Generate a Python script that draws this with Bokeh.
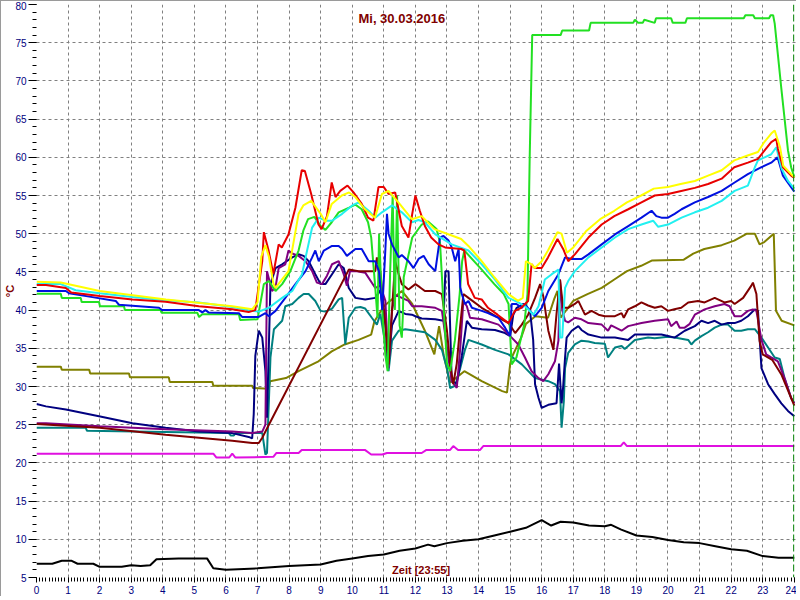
from bokeh.plotting import figure
from bokeh.models import FixedTicker, Label, Span, Range1d
from bokeh.embed import file_html
from bokeh.resources import INLINE

# ---------------- data ----------------
hour_ticks = list(range(0, 25))
temp_ticks = list(range(5, 81, 5))
title_text = "Mi, 30.03.2016"
time_text = "Zeit [23:55]"
unit_text = "°C"
now_hour = 23.98

black_h = [0, 0.5, 0.8, 1.1, 1.3, 1.8, 2.0, 2.7, 3.0, 3.3, 3.6, 3.8, 4.5, 5.0, 5.4, 5.6, 6.0, 7.0, 8.0, 8.5, 9.0, 9.5, 10.0, 10.5, 11.0, 11.5, 12.0, 12.4, 12.6, 13.0, 13.5, 14.0, 14.5, 15.0, 15.5, 16.0, 16.3, 16.6, 17.0, 17.5, 18.0, 18.2, 18.5, 19.0, 19.5, 20.0, 20.5, 21.0, 21.5, 22.0, 22.5, 23.0, 23.5, 24.0]
black_v = [6.8, 6.8, 7.2, 7.2, 6.8, 6.8, 6.4, 6.4, 6.6, 6.5, 6.6, 7.4, 7.5, 7.5, 7.5, 6.2, 6.0, 6.2, 6.5, 6.6, 6.7, 7.2, 7.5, 7.8, 8.0, 8.5, 8.8, 9.3, 9.1, 9.5, 9.8, 10.0, 10.5, 11.0, 11.5, 12.5, 11.8, 12.3, 12.2, 11.8, 11.7, 11.9, 11.3, 10.5, 10.3, 9.9, 9.6, 9.5, 9.1, 8.7, 8.5, 7.8, 7.6, 7.6]

magenta_h = [0, 5.6, 5.7, 6.1, 6.2, 6.3, 7.5, 7.6, 8.3, 8.4, 10.4, 10.6, 10.95, 11.1, 12.2, 12.35, 13.1, 13.2, 13.35, 14.05, 14.15, 18.5, 18.6, 18.7, 24]
magenta_v = [21.2, 21.2, 20.7, 20.7, 21.2, 20.7, 20.8, 21.3, 21.3, 21.7, 21.7, 21.1, 21.1, 21.3, 21.3, 21.7, 21.7, 22.2, 21.7, 21.7, 22.2, 22.2, 22.7, 22.2, 22.2]

olive_h = [0, 0.77, 0.8, 1.67, 1.7, 2.93, 2.96, 4.19, 4.22, 5.57, 5.6, 6.83, 6.86, 7.35, 7.4, 7.9, 8.3, 8.93, 9.35, 9.76, 10.2, 10.6, 10.7, 11.0, 11.57, 11.9, 12.3, 12.6, 12.75, 12.9, 13.1, 13.55, 14.1, 14.75, 14.9, 15.0, 15.05, 15.35, 15.5, 15.8, 16.2, 16.4, 16.5, 16.6, 17.0, 17.45, 17.9, 18.3, 18.7, 19.15, 19.5, 20.5, 20.8, 21.15, 21.7, 22.1, 22.5, 22.75, 22.9, 23.05, 23.35, 23.42, 23.6, 24.0]
olive_v = [32.6, 32.6, 32.2, 32.2, 31.7, 31.7, 31.2, 31.2, 30.6, 30.6, 30.1, 30.1, 29.8, 29.7, 30.7, 31.1, 32.0, 33.3, 34.6, 35.5, 36.1, 36.8, 38.5, 40.5, 42.5, 40.8, 37.3, 34.2, 37.9, 34.0, 30.5, 32.0, 30.7, 29.4, 29.2, 32.9, 33.8, 36.4, 38.2, 39.2, 39.0, 41.5, 42.5, 39.0, 41.2, 42.1, 42.9, 44.0, 45.1, 45.8, 46.5, 46.6, 47.4, 48.0, 48.5, 49.1, 50.0, 50.0, 48.6, 48.9, 50.0, 39.9, 38.6, 38.0]

green_h = [0, 0.77, 0.8, 1.4, 1.43, 1.98, 2.01, 2.77, 2.8, 3.93, 3.96, 5.09, 5.15, 5.25, 6.41, 6.45, 7.0, 7.2, 7.36, 7.57, 7.78, 8.04, 8.3, 8.45, 8.6, 8.8, 9.0, 9.15, 9.35, 9.57, 9.9, 10.1, 10.3, 10.5, 10.6, 10.72, 10.8, 10.85, 10.95, 11.05, 11.12, 11.2, 11.28, 11.35, 11.42, 11.5, 11.57, 11.6, 11.63, 11.9, 12.2, 12.4, 12.67, 12.78, 12.9, 13.0, 13.1, 13.25, 13.4, 13.48, 13.55, 14.1, 14.5, 14.8, 14.95, 15.05, 15.2, 15.35, 15.45, 15.55, 15.62, 15.7, 16.6, 16.65, 17.5, 17.55, 18.9, 18.95, 19.05, 19.2, 19.25, 19.58, 19.62, 20.1, 20.15, 20.55, 20.6, 22.4, 22.45, 22.7, 22.75, 23.2, 23.25, 23.33, 23.38, 23.59, 23.8, 23.9, 24.0]
green_v = [42.15, 42.15, 41.6, 41.6, 41.06, 41.06, 40.5, 40.5, 40.0, 40.0, 39.66, 39.66, 39.1, 39.45, 39.45, 38.7, 38.8, 43.4, 43.8, 42.5, 43.4, 45.1, 47.8, 50.4, 51.9, 52.2, 51.0, 50.5, 51.5, 52.8, 53.4, 53.8, 53.2, 51.5, 49.5, 43.4, 39.0, 50.0, 40.0, 34.0, 32.0, 45.0, 55.0, 40.0, 55.0, 38.0, 36.4, 39.0, 44.3, 49.5, 51.2, 51.6, 50.6, 48.8, 40.0, 33.0, 32.0, 36.0, 42.0, 46.4, 47.8, 45.3, 43.4, 42.1, 40.8, 32.9, 33.8, 36.4, 38.2, 42.1, 60.0, 76.0, 76.0, 76.6, 76.6, 77.6, 77.6, 78.0, 77.6, 77.6, 78.0, 77.6, 78.2, 78.2, 77.6, 77.6, 78.2, 78.2, 78.6, 78.6, 78.2, 78.2, 78.6, 78.6, 77.5, 69.0, 60.9, 58.7, 57.4]

yellow_h = [0, 0.77, 2.0, 4.1, 6.2, 6.83, 7.0, 7.12, 7.25, 7.36, 7.5, 7.57, 7.98, 8.3, 8.45, 8.7, 9.0, 9.15, 9.35, 9.67, 9.9, 10.1, 10.4, 10.72, 10.94, 11.15, 11.5, 11.89, 12.2, 12.6, 13.0, 13.45, 13.68, 14.1, 14.5, 14.95, 15.25, 15.4, 15.5, 15.68, 15.78, 16.0, 16.2, 16.5, 16.63, 16.8, 17.0, 17.42, 17.85, 18.3, 18.7, 19.15, 19.55, 20.0, 20.4, 20.85, 21.27, 21.7, 22.1, 22.5, 22.85, 23.05, 23.27, 23.38, 23.55, 23.65, 23.9, 24.0]
yellow_v = [43.7, 43.6, 42.5, 41.4, 40.5, 40.1, 41.0, 47.0, 48.5, 47.0, 43.5, 42.9, 45.1, 52.6, 53.7, 54.3, 52.6, 51.5, 53.9, 55.0, 55.4, 54.8, 53.2, 52.1, 55.2, 55.6, 53.9, 51.9, 52.3, 50.6, 50.0, 49.3, 48.4, 46.4, 44.3, 42.1, 41.2, 41.6, 46.4, 46.0, 45.5, 46.4, 47.8, 50.2, 50.0, 47.5, 48.2, 50.4, 51.9, 53.0, 54.1, 55.0, 55.9, 56.1, 56.5, 56.9, 57.6, 58.3, 59.6, 60.2, 60.7, 62.0, 63.1, 63.5, 61.3, 58.9, 57.8, 57.4]

red_h = [0, 0.3, 0.93, 1.1, 2.0, 3.04, 4.09, 5.14, 6.2, 6.72, 6.93, 7.15, 7.2, 7.35, 7.5, 7.67, 7.77, 7.98, 8.2, 8.4, 8.5, 8.7, 8.93, 9.03, 9.2, 9.35, 9.47, 9.62, 9.85, 10.04, 10.3, 10.5, 10.67, 10.83, 11.0, 11.15, 11.36, 11.57, 11.78, 11.9, 12.0, 12.14, 12.3, 12.5, 12.73, 12.94, 13.45, 13.55, 13.67, 13.88, 14.1, 14.3, 14.6, 14.95, 15.15, 15.35, 15.57, 15.68, 15.78, 16.0, 16.2, 16.5, 16.68, 16.84, 17.05, 17.48, 17.9, 18.3, 18.74, 19.16, 19.58, 20.0, 20.42, 20.85, 21.27, 21.7, 22.1, 22.53, 22.85, 23.06, 23.27, 23.43, 23.48, 23.64, 23.9, 24.0]
red_v = [43.3, 43.3, 42.9, 42.3, 41.85, 41.4, 41.1, 40.5, 40.1, 39.75, 40.0, 46.4, 50.2, 47.8, 44.7, 48.6, 48.2, 49.9, 53.4, 58.3, 58.2, 55.2, 51.2, 50.6, 52.3, 56.7, 54.8, 55.6, 56.3, 55.4, 53.9, 52.1, 51.7, 56.1, 56.1, 55.2, 55.4, 51.0, 49.5, 52.6, 55.0, 53.0, 51.0, 49.5, 48.6, 48.2, 48.0, 47.8, 43.4, 41.6, 41.4, 40.3, 39.4, 38.3, 39.9, 40.3, 41.2, 46.0, 45.5, 45.5, 46.9, 49.3, 48.0, 46.4, 47.3, 49.5, 51.2, 52.3, 53.2, 54.1, 55.0, 55.2, 55.6, 56.0, 56.5, 57.2, 58.7, 59.3, 59.8, 60.9, 62.0, 62.4, 61.1, 58.7, 57.6, 57.3]

cyan_h = [0, 0.77, 1.24, 2.0, 3.04, 4.09, 5.14, 6.2, 6.83, 7.04, 7.36, 7.78, 8.1, 8.41, 8.57, 8.73, 8.94, 9.15, 9.36, 9.68, 10.0, 10.2, 10.52, 10.73, 10.94, 11.26, 11.57, 11.89, 12.1, 12.3, 12.63, 13.15, 13.68, 14.1, 14.52, 14.95, 15.26, 15.47, 15.74, 15.9, 16.1, 16.32, 16.53, 16.58, 16.65, 16.74, 16.84, 17.05, 17.48, 17.9, 18.32, 18.74, 19.16, 19.53, 19.69, 20.0, 20.43, 20.85, 21.27, 21.7, 22.11, 22.53, 22.75, 22.85, 23.06, 23.27, 23.43, 23.6, 23.8, 24.0]
cyan_v = [43.4, 43.4, 42.6, 42.2, 41.7, 41.3, 41.0, 40.4, 39.9, 39.8, 40.3, 41.6, 42.5, 44.7, 47.8, 50.8, 52.1, 51.7, 51.7, 52.6, 53.7, 54.1, 53.0, 52.1, 52.8, 53.7, 52.8, 51.5, 51.8, 51.5, 49.9, 48.6, 47.8, 46.0, 44.0, 41.6, 41.0, 40.5, 39.4, 40.5, 44.0, 44.7, 45.3, 36.4, 36.4, 42.9, 43.8, 45.1, 46.9, 48.2, 49.5, 50.6, 51.2, 51.7, 50.9, 51.2, 52.1, 52.8, 53.4, 54.3, 55.6, 56.3, 58.7, 59.6, 60.0, 60.4, 61.3, 58.5, 56.9, 55.9]

blue_h = [0, 0.93, 1.03, 1.77, 2.51, 2.61, 3.88, 3.98, 5.14, 5.25, 5.35, 5.45, 6.41, 6.51, 7.04, 7.25, 7.36, 7.57, 7.88, 8.2, 8.52, 8.73, 8.83, 8.94, 9.1, 9.36, 9.57, 9.68, 9.83, 10.1, 10.3, 10.52, 10.73, 10.85, 10.95, 11.05, 11.1, 11.15, 11.26, 11.47, 11.57, 11.78, 11.94, 12.1, 12.26, 12.42, 12.63, 12.78, 12.89, 13.05, 13.15, 13.26, 13.37, 13.42, 13.47, 13.57, 13.68, 13.79, 14.1, 14.3, 14.63, 14.84, 15.0, 15.05, 15.2, 15.37, 15.47, 15.63, 15.79, 16.0, 16.21, 16.53, 16.74, 16.95, 17.27, 17.48, 17.9, 18.32, 18.74, 19.16, 19.48, 19.63, 19.79, 20.0, 20.21, 20.43, 20.85, 21.27, 21.7, 22.11, 22.53, 22.96, 23.27, 23.47, 23.64, 24.0]
blue_v = [42.5, 42.5, 42.2, 41.7, 41.2, 40.7, 40.3, 40.0, 40.0, 39.7, 40.0, 39.7, 39.6, 39.1, 39.1, 39.6, 39.2, 39.9, 41.6, 43.4, 45.1, 46.9, 47.8, 46.4, 47.8, 48.4, 48.4, 48.0, 47.1, 48.0, 48.0, 46.4, 46.4, 45.0, 40.0, 48.0, 52.6, 50.0, 48.6, 46.9, 47.2, 46.4, 45.5, 46.7, 47.1, 46.0, 45.1, 49.5, 49.7, 49.1, 48.2, 46.4, 48.0, 43.0, 42.1, 40.8, 41.2, 40.3, 39.9, 39.6, 39.0, 37.7, 36.6, 40.8, 40.8, 40.3, 40.8, 39.9, 39.2, 40.3, 42.5, 44.7, 46.9, 46.7, 46.7, 47.3, 48.6, 49.9, 51.0, 52.1, 53.0, 52.3, 52.1, 52.1, 52.6, 53.2, 54.1, 54.8, 55.6, 56.7, 57.8, 58.7, 59.3, 60.0, 57.6, 55.5]

purple_h = [0, 0.3, 2.0, 4.09, 6.2, 6.83, 7.15, 7.25, 7.3, 7.46, 7.57, 7.67, 7.88, 7.98, 8.1, 8.3, 8.52, 8.73, 8.88, 9.04, 9.2, 9.36, 9.57, 9.73, 9.83, 9.93, 10.1, 10.41, 10.73, 10.89, 11.05, 11.15, 11.26, 11.36, 11.57, 11.78, 11.9, 12.2, 12.63, 12.84, 13.0, 13.15, 13.31, 13.42, 13.52, 13.63, 13.73, 14.1, 14.63, 14.84, 15.05, 15.26, 15.47, 15.68, 15.9, 16.05, 16.21, 16.42, 16.53, 16.58, 16.65, 16.74, 16.84, 17.05, 17.26, 17.48, 17.9, 18.1, 18.2, 18.53, 18.74, 19.16, 19.58, 20.0, 20.1, 20.27, 20.37, 20.53, 20.69, 20.85, 21.16, 21.48, 21.79, 21.95, 22.11, 22.32, 22.53, 22.69, 22.8, 22.96, 23.11, 23.27, 23.48, 23.7, 23.9, 24.0]
purple_v = [25.2, 25.2, 24.8, 24.4, 24.1, 23.9, 24.1, 25.0, 45.1, 42.5, 43.0, 45.5, 46.0, 47.8, 47.4, 47.1, 46.4, 45.1, 43.6, 43.4, 44.5, 46.0, 46.4, 44.7, 43.2, 45.1, 45.1, 44.9, 42.9, 43.2, 41.2, 32.4, 40.0, 42.0, 41.6, 41.2, 40.5, 40.5, 40.3, 39.9, 35.1, 30.7, 29.8, 35.0, 41.2, 40.5, 39.0, 38.8, 38.1, 37.3, 36.4, 35.5, 33.8, 32.0, 31.1, 30.7, 31.6, 33.3, 36.0, 44.0, 40.0, 38.6, 38.4, 39.0, 38.8, 38.3, 38.1, 37.3, 38.0, 37.3, 37.9, 38.3, 38.6, 38.8, 37.9, 38.5, 37.7, 37.7, 38.2, 39.4, 40.1, 40.5, 40.8, 40.5, 39.2, 39.2, 39.9, 40.1, 39.9, 36.1, 34.2, 33.8, 33.3, 31.0, 28.5, 27.8]

maroon_h = [0, 2.0, 4.09, 6.2, 6.83, 7.04, 7.15, 7.36, 9.89, 10.2, 10.73, 10.78, 10.89, 11.05, 11.15, 11.26, 11.36, 11.47, 11.57, 11.78, 12.0, 12.14, 12.3, 12.63, 12.84, 13.0, 13.1, 13.2, 13.31, 13.42, 13.52, 13.68, 14.1, 14.3, 14.63, 14.95, 15.16, 15.37, 15.57, 15.79, 15.95, 16.05, 16.21, 16.37, 16.47, 16.58, 16.68, 16.84, 17.05, 17.16, 17.37, 17.58, 17.8, 18.0, 18.32, 18.53, 18.6, 18.74, 18.95, 19.16, 19.37, 19.58, 19.79, 20.0, 20.2, 20.42, 20.64, 20.95, 21.16, 21.48, 21.79, 22.0, 22.11, 22.38, 22.64, 22.69, 22.8, 22.9, 23.0, 23.3, 23.6, 24.0]
maroon_v = [25.1, 24.6, 23.7, 22.9, 22.6, 22.6, 23.3, 25.0, 45.3, 45.1, 45.1, 46.9, 45.0, 38.1, 32.9, 40.0, 46.4, 44.7, 43.4, 42.7, 43.4, 43.0, 42.5, 42.5, 42.1, 37.3, 32.9, 30.3, 33.0, 38.0, 42.1, 41.6, 40.3, 39.8, 39.0, 38.3, 37.0, 38.1, 39.4, 41.6, 43.4, 41.8, 37.3, 34.8, 39.5, 44.0, 40.3, 40.3, 40.8, 41.2, 39.4, 39.9, 39.4, 39.2, 39.2, 39.6, 39.0, 40.1, 40.5, 41.0, 40.6, 40.3, 40.5, 39.9, 40.1, 40.3, 41.0, 41.2, 41.0, 41.6, 41.0, 41.2, 40.8, 41.6, 43.2, 43.6, 42.1, 36.0, 34.2, 33.5, 31.5, 27.5]

teal_h = [0, 1.56, 1.6, 6.09, 6.15, 6.25, 6.3, 7.15, 7.25, 7.3, 7.41, 7.52, 7.78, 7.88, 8.1, 8.3, 8.46, 8.62, 8.83, 9.0, 9.15, 9.36, 9.57, 9.68, 9.78, 9.89, 10.1, 10.26, 10.41, 10.62, 10.78, 10.89, 11.05, 11.15, 11.26, 11.47, 11.68, 12.0, 12.3, 12.63, 12.84, 13.0, 13.1, 13.26, 13.42, 13.57, 13.68, 14.1, 14.52, 14.95, 15.37, 15.79, 16.21, 16.42, 16.58, 16.63, 16.7, 16.74, 16.84, 17.05, 17.26, 17.48, 17.68, 18.0, 18.1, 18.32, 18.53, 18.63, 18.74, 18.95, 19.37, 19.58, 19.79, 20.0, 20.21, 20.64, 20.74, 20.85, 21.06, 21.27, 21.48, 21.7, 21.9, 22.11, 22.32, 22.53, 22.75, 22.96, 23.17, 23.38, 23.54, 23.69, 23.9, 24.0]
teal_v = [24.6, 24.6, 24.2, 23.9, 23.6, 23.6, 23.9, 23.9, 21.1, 21.3, 33.8, 37.5, 38.6, 40.5, 40.8, 41.6, 42.1, 42.1, 41.2, 39.9, 39.8, 40.2, 41.4, 41.6, 35.5, 39.0, 40.3, 40.4, 40.2, 39.0, 38.1, 39.5, 35.5, 32.0, 36.0, 37.3, 37.5, 37.3, 37.1, 36.1, 34.8, 32.4, 29.8, 30.1, 32.4, 34.8, 36.1, 35.5, 34.8, 34.2, 32.9, 31.1, 30.7, 30.3, 29.4, 24.6, 28.0, 32.4, 34.4, 35.5, 36.0, 35.9, 35.7, 35.6, 33.8, 35.1, 35.3, 34.9, 35.3, 36.1, 36.4, 36.3, 36.4, 36.5, 36.4, 36.1, 35.5, 36.0, 36.6, 37.1, 37.7, 38.1, 38.1, 37.3, 37.3, 37.5, 37.5, 36.4, 35.1, 33.8, 33.6, 31.1, 28.5, 27.8]

navy_h = [0, 0.3, 0.93, 1.98, 3.04, 4.09, 5.14, 6.2, 6.72, 6.83, 6.88, 6.93, 7.04, 7.15, 7.25, 7.3, 7.41, 7.57, 7.78, 8.1, 8.3, 8.46, 8.62, 8.83, 9.0, 9.15, 9.36, 9.57, 9.73, 9.89, 10.1, 10.41, 10.73, 10.89, 11.05, 11.15, 11.26, 11.47, 11.68, 11.89, 12.0, 12.2, 12.63, 12.89, 12.95, 13.05, 13.15, 13.31, 13.47, 13.63, 13.79, 14.1, 14.52, 14.84, 15.0, 15.1, 15.21, 15.42, 15.63, 15.73, 15.79, 15.9, 16.0, 16.21, 16.47, 16.55, 16.63, 16.68, 16.74, 16.79, 16.95, 17.16, 17.26, 17.48, 17.9, 18.32, 18.74, 18.95, 19.37, 19.79, 20.0, 20.21, 20.53, 20.85, 21.06, 21.27, 21.48, 21.7, 21.9, 22.11, 22.32, 22.53, 22.75, 22.85, 22.96, 23.17, 23.38, 23.59, 23.8, 24.0]
navy_v = [27.7, 27.4, 27.0, 26.1, 25.2, 24.6, 24.1, 23.9, 23.4, 23.2, 26.4, 34.0, 37.3, 36.4, 32.0, 25.9, 43.4, 45.5, 46.0, 46.9, 47.3, 47.1, 46.4, 44.7, 43.4, 43.4, 44.7, 46.0, 45.5, 42.9, 41.6, 41.4, 41.6, 42.6, 38.0, 33.3, 38.0, 39.9, 39.5, 39.4, 39.2, 38.9, 38.8, 38.6, 45.1, 45.1, 30.7, 30.4, 34.0, 38.6, 37.7, 37.5, 37.4, 37.0, 36.6, 39.4, 40.3, 40.8, 39.9, 36.1, 30.3, 28.5, 27.2, 27.6, 27.8, 33.0, 27.8, 30.0, 33.8, 36.4, 37.3, 37.9, 37.4, 36.8, 36.4, 36.4, 36.1, 36.8, 36.8, 36.8, 36.6, 36.4, 37.3, 37.9, 38.6, 38.3, 38.6, 38.1, 38.3, 38.3, 38.6, 39.2, 40.1, 39.9, 32.4, 30.3, 29.0, 27.8, 26.8, 26.1]

series = [
    (magenta_h, magenta_v, "#E010E0"),
    (black_h, black_v, "#000000"),
    (olive_h, olive_v, "#808000"),
    (teal_h, teal_v, "#008080"),
    (navy_h, navy_v, "#000080"),
    (purple_h, purple_v, "#800080"),
    (maroon_h, maroon_v, "#800000"),
    (green_h, green_v, "#22E022"),
    (blue_h, blue_v, "#0010E0"),
    (cyan_h, cyan_v, "#22F0F0"),
    (red_h, red_v, "#E80000"),
    (yellow_h, yellow_v, "#FFFF00"),
]

# ---------------- figure ----------------
p = figure(width=796, height=596, output_backend="svg", toolbar_location=None,
           x_range=Range1d(0, 24.07), y_range=Range1d(5, 80),
           min_border_left=33, min_border_right=1, min_border_top=3, min_border_bottom=20)
p.background_fill_color = "white"
p.border_fill_color = "white"
p.outline_line_color = None
p.styles = {"border-left": "1px solid #9a9a9a", "border-top": "1px solid #9a9a9a"}

font = "Liberation Sans"
for ax in (p.xaxis[0], p.yaxis[0]):
    ax.axis_line_color = None
    ax.major_tick_in = 0
    ax.minor_tick_in = 0
    ax.major_tick_line_color = "black"
    ax.minor_tick_line_color = "black"
    ax.major_label_text_color = "#000080"
    ax.major_label_text_font = font
    ax.major_label_text_font_size = "10px"

p.xaxis.ticker = FixedTicker(ticks=hour_ticks, minor_ticks=[i / 10 for i in range(0, 241)])
p.xaxis.major_tick_out = 5
p.xaxis.minor_tick_out = 4
p.xaxis.major_label_standoff = 3
p.yaxis.ticker = FixedTicker(ticks=temp_ticks, minor_ticks=list(range(5, 81)))
p.yaxis.major_tick_out = 8
p.yaxis.minor_tick_out = 4
p.yaxis.major_label_standoff = 2
p.yaxis.axis_label = unit_text
p.yaxis.axis_label_text_color = "#800000"
p.yaxis.axis_label_text_font = font
p.yaxis.axis_label_text_font_size = "11px"
p.yaxis.axis_label_text_font_style = "bold"
p.yaxis.axis_label_standoff = -4

p.xgrid.ticker = FixedTicker(ticks=hour_ticks[1:-1])
p.ygrid.ticker = FixedTicker(ticks=temp_ticks[1:-1])
for g in (p.xgrid[0], p.ygrid[0]):
    g.grid_line_color = "#808080"
    g.grid_line_dash = "3 3"
    g.grid_line_width = 1

for h, v, c in series:
    p.line(h, v, line_color=c, line_width=2)

p.add_layout(Span(location=now_hour, dimension="height", line_color="#008000",
                  line_dash="7 3", line_width=1))

p.add_layout(Label(x=11.57, y=78.2, text=title_text, text_color="#800000", text_font=font,
                   text_font_size="13px", text_font_style="bold",
                   text_align="center", text_baseline="middle"))
p.add_layout(Label(x=12.18, y=6.0, text=time_text, text_color="#800000", text_font=font,
                   text_font_size="11px", text_font_style="bold",
                   text_align="center", text_baseline="middle"))

open("out.html", "w").write(file_html(p, INLINE))
